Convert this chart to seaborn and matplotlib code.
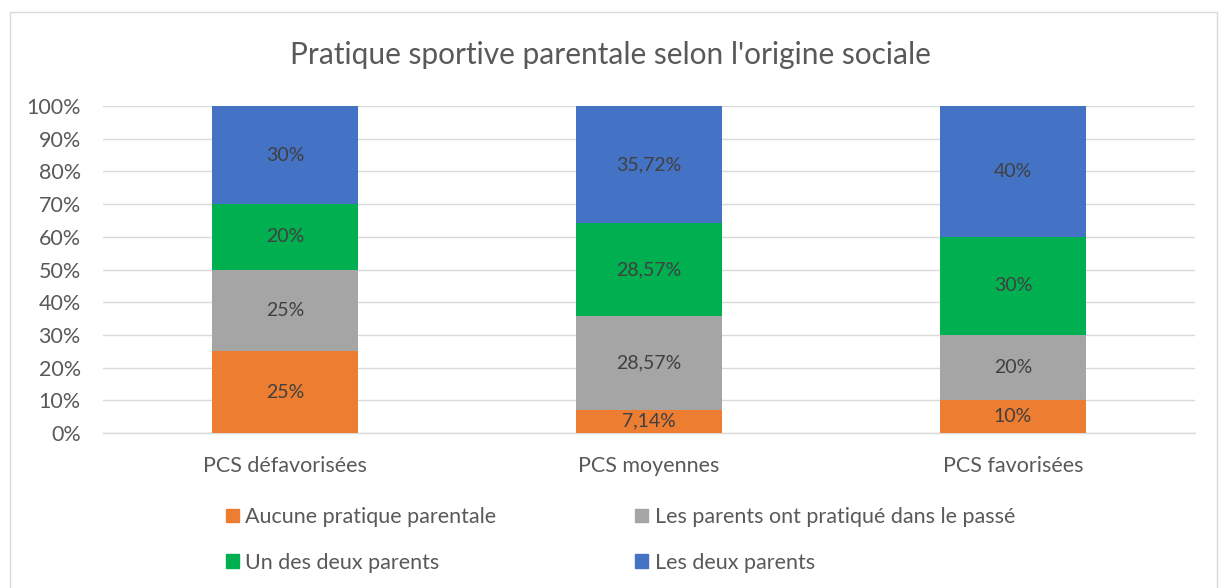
import matplotlib
matplotlib.use("Agg")
import matplotlib.pyplot as plt
import matplotlib.patches as mpatches
import numpy as np
import pandas as pd
import seaborn as sns

categories = ["PCS défavorisées", "PCS moyennes", "PCS favorisées"]
series = ["Aucune pratique parentale", "Les parents ont pratiqué dans le passé",
          "Un des deux parents", "Les deux parents"]
aucune = [25, 7.14, 10]
passe = [25, 28.57, 20]
un_parent = [20, 28.57, 30]
deux_parents = [30, 35.72, 40]
labels = [["25%", "7,14%", "10%"],
          ["25%", "28,57%", "20%"],
          ["20%", "28,57%", "30%"],
          ["30%", "35,72%", "40%"]]
colors = ["#ED7D31", "#A5A5A5", "#00B050", "#4472C4"]
yticks = [0, 10, 20, 30, 40, 50, 60, 70, 80, 90, 100]

sns.set_style("white")
plt.rcParams["font.family"] = ["Lato", "DejaVu Sans"]
text_color = "#595959"

values = np.array([aucune, passe, un_parent, deux_parents], dtype=float)
cum = np.cumsum(values, axis=0)

fig = plt.figure(figsize=(12.2, 5.88), dpi=100)
ax = fig.add_axes([103/1220, 1-433/588, (1195-103)/1220, (433-106)/588])

# draw from top layer down so lower layers overlay
for i in range(len(series) - 1, -1, -1):
    df = pd.DataFrame({"cat": categories, "val": cum[i]})
    sns.barplot(data=df, x="cat", y="val", color=colors[i], width=0.4,
                saturation=1, ax=ax, zorder=3, edgecolor="none", linewidth=0)

# data labels
for i in range(len(series)):
    for j in range(len(categories)):
        mid = cum[i, j] - values[i, j] / 2
        ax.text(j, mid, labels[i][j], ha="center", va="center",
                fontsize=14, color="#404040", zorder=5)

ax.set_ylim(0, 100)
ax.set_xlim(-0.5, 2.5)
ax.set_yticks(yticks)
ax.set_yticklabels([f"{t}%" for t in yticks])
ax.set_xlabel("")
ax.set_ylabel("")
ax.grid(axis="y", color="#D9D9D9", linewidth=1, zorder=0)
ax.grid(axis="x", visible=False)
for s in ["top", "right", "left"]:
    ax.spines[s].set_visible(False)
ax.spines["bottom"].set_color("#D9D9D9")
ax.spines["bottom"].set_linewidth(1)
ax.tick_params(axis="y", length=0, pad=16, labelsize=15.5, labelcolor=text_color)
ax.tick_params(axis="x", length=0, pad=16.5, labelsize=15.5, labelcolor=text_color)

fig.text(0.5, 1-55/588, "Pratique sportive parentale selon l'origine sociale",
         ha="center", va="center", fontsize=21.5, color=text_color)

handles = [mpatches.Patch(color=colors[k], label=series[k]) for k in range(4)]
order = [0, 2, 1, 3]
leg = fig.legend(handles=[handles[k] for k in order], ncol=2, loc="center left",
                 bbox_to_anchor=(226/1220, 1-540/588),
                 frameon=False, fontsize=15.5, handlelength=0.6, handleheight=0.6,
                 handletextpad=0.3, columnspacing=6.45, labelspacing=1.19,
                 borderpad=0, borderaxespad=0)
for t in leg.get_texts():
    t.set_color(text_color)

fig.patches.append(mpatches.Rectangle((10/1220, -0.05), (1217-10)/1220, 1.05-12/588,
                                      transform=fig.transFigure, fill=False,
                                      edgecolor="#D9D9D9", linewidth=1))

fig.savefig("out.png", dpi=100, facecolor="white")
